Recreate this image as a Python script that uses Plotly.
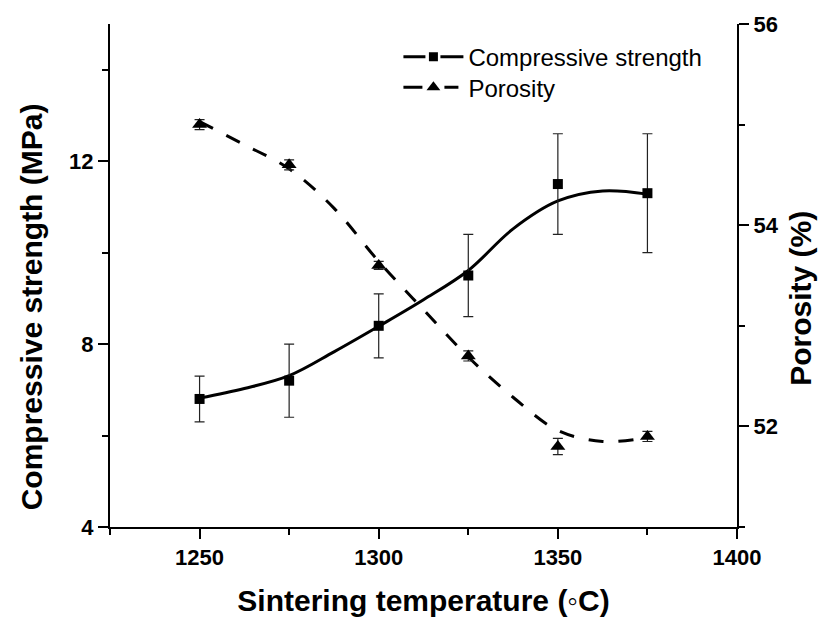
import plotly.graph_objects as go

# Sintering temperatures (°C)
temperature = [1250, 1275, 1300, 1325, 1350, 1375]

# Measured compressive strength (MPa) with standard deviation
strength = [6.8, 7.2, 8.4, 9.5, 11.5, 11.3]
strength_err = [0.5, 0.8, 0.7, 0.9, 1.1, 1.3]

# Measured porosity (%) with standard deviation
porosity = [55.0, 54.6, 53.6, 52.7, 51.8, 51.9]
porosity_err = [0.05, 0.05, 0.04, 0.05, 0.08, 0.05]

# Smoothed trend curves
fit_temperature = [1250, 1262.5, 1275, 1287.5, 1300, 1312.5, 1325, 1337.5, 1350, 1362.5, 1375]
strength_fit = [6.82, 7.03, 7.31, 7.83, 8.39, 8.97, 9.61, 10.52, 11.13, 11.35, 11.28]
porosity_fit = [55.03, 54.80, 54.56, 54.17, 53.64, 53.16, 52.69, 52.29, 51.96, 51.85, 51.89]

FONT = "Liberation Sans, Arial, sans-serif"
BLACK = "#000000"

fig = go.Figure()

# trend lines
fig.add_trace(go.Scatter(
    x=fit_temperature, y=strength_fit, mode="lines", line_shape="spline",
    line=dict(color=BLACK, width=3), showlegend=False, hoverinfo="skip"))
fig.add_trace(go.Scatter(
    x=fit_temperature, y=porosity_fit, mode="lines", line_shape="spline", yaxis="y2",
    line=dict(color=BLACK, width=3, dash="15px,15px"), showlegend=False, hoverinfo="skip"))

# data points with error bars
fig.add_trace(go.Scatter(
    x=temperature, y=strength, mode="markers",
    marker=dict(symbol="square", size=10, color=BLACK),
    error_y=dict(type="data", array=strength_err, color="#222222", thickness=1.2, width=5),
    showlegend=False))
fig.add_trace(go.Scatter(
    x=temperature, y=porosity, mode="markers", yaxis="y2",
    marker=dict(symbol="triangle-up", size=13, color=BLACK),
    error_y=dict(type="data", array=porosity_err, color="#222222", thickness=1.2, width=5),
    showlegend=False))

# legend keys: line segment broken around the symbol
fig.add_trace(go.Scatter(
    x=[None], y=[None], mode="lines+markers", name="Compressive strength", legend="legend",
    line=dict(color=BLACK, width=3, dash="22px,15px,23px,60px"),
    marker=dict(symbol="square", size=9, color=BLACK)))
fig.add_trace(go.Scatter(
    x=[None], y=[None], mode="lines+markers", name="Porosity", yaxis="y2", legend="legend2",
    line=dict(color=BLACK, width=3, dash="19px,22px,14px,60px"),
    marker=dict(symbol="triangle-up", size=12, color=BLACK)))

axis_common = dict(
    showgrid=False, zeroline=False, showline=True, linecolor=BLACK, linewidth=2,
    ticks="outside", ticklen=10, tickwidth=2, tickcolor=BLACK,
    tickfont=dict(family=FONT, size=22, color=BLACK, weight="bold"),
)
title_font = dict(family=FONT, size=30, color=BLACK, weight="bold")
legend_common = dict(
    x=0.46, xanchor="left", yanchor="top",
    bgcolor="rgba(0,0,0,0)", borderwidth=0,
    font=dict(family=FONT, size=24, color=BLACK), itemwidth=60)

fig.update_layout(
    width=824, height=624,
    margin=dict(l=110, r=87, t=20, b=97),
    paper_bgcolor="white", plot_bgcolor="white",
    font=dict(family=FONT, color=BLACK),
    xaxis=dict(
        range=[1225, 1400], tick0=1250, dtick=50,
        minor=dict(dtick=25, tick0=1225, ticks="outside", ticklen=6, tickwidth=2, tickcolor=BLACK),
        title=dict(text="Sintering temperature (◦C)", font=title_font, standoff=21),
        **axis_common),
    yaxis=dict(
        range=[4, 15], tick0=0, dtick=4,
        minor=dict(dtick=2, tick0=0, ticks="outside", ticklen=6, tickwidth=2, tickcolor=BLACK),
        **axis_common),
    yaxis2=dict(
        range=[51, 56], tick0=0, dtick=2, overlaying="y", side="right",
        minor=dict(dtick=1, tick0=0, ticks="outside", ticklen=6, tickwidth=2, tickcolor=BLACK),
        **axis_common),
    legend=dict(legend_common, y=0.979),
    legend2=dict(legend_common, y=0.918),
    showlegend=True,
    annotations=[
        dict(text="Compressive strength (MPa)", textangle=-90, font=title_font,
             xref="paper", yref="paper", x=-0.125, y=0.438,
             xanchor="center", yanchor="middle", showarrow=False),
        dict(text="Porosity (%)", textangle=-90, font=title_font,
             xref="paper", yref="paper", x=1.1, y=0.455,
             xanchor="center", yanchor="middle", showarrow=False),
    ],
)

fig.write_html("out.html")
